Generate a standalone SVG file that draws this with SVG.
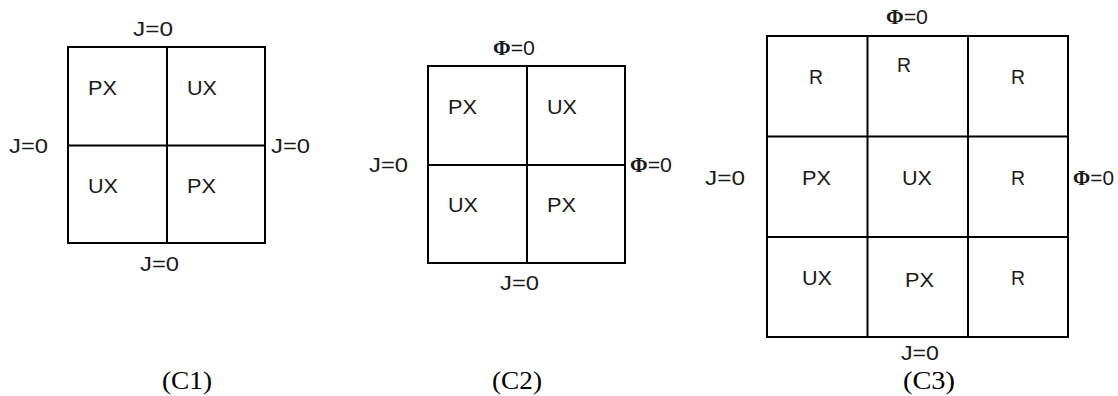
<svg xmlns="http://www.w3.org/2000/svg" width="1118" height="396" viewBox="0 0 1118 396">
<style>
.box{fill:none;stroke:#000;stroke-width:2}
.ln{stroke:#000;stroke-width:2}
.t{font-family:"Liberation Sans",Arial,sans-serif;font-size:20px;fill:#1a1a1a}
.b{font-family:"Liberation Serif","Times New Roman",serif;font-weight:bold}
.cap{font-family:"Liberation Serif","Times New Roman",serif;font-size:25px;fill:#000}
</style>
<rect width="1118" height="396" fill="#fff"/>
<g id="c1">
<rect class="box" x="68" y="47" width="197" height="196"/>
<line class="ln" x1="167" y1="47" x2="167" y2="243"/>
<line class="ln" x1="68" y1="145.5" x2="265" y2="145.5"/>
<text class="t" x="133" y="36" textLength="40" lengthAdjust="spacingAndGlyphs">J=0</text>
<text class="t" x="9" y="153" textLength="39" lengthAdjust="spacingAndGlyphs">J=0</text>
<text class="t" x="271" y="153" textLength="39" lengthAdjust="spacingAndGlyphs">J=0</text>
<text class="t" x="140" y="271" textLength="39" lengthAdjust="spacingAndGlyphs">J=0</text>
<g id="c1-cell-11"><text class="t" x="88" y="95" textLength="29" lengthAdjust="spacingAndGlyphs">PX</text></g>
<g id="c1-cell-12"><text class="t" x="187" y="95" textLength="30" lengthAdjust="spacingAndGlyphs">UX</text></g>
<g id="c1-cell-21"><text class="t" x="88" y="193" textLength="30" lengthAdjust="spacingAndGlyphs">UX</text></g>
<g id="c1-cell-22"><text class="t" x="187" y="193" textLength="29" lengthAdjust="spacingAndGlyphs">PX</text></g>
<text class="cap" x="162" y="389" textLength="50" lengthAdjust="spacingAndGlyphs">(C1)</text>
</g>
<g id="c2">
<rect class="box" x="428" y="66" width="197" height="197"/>
<line class="ln" x1="527" y1="66" x2="527" y2="263"/>
<line class="ln" x1="428" y1="165" x2="625" y2="165"/>
<text class="t" x="493" y="55" textLength="42" lengthAdjust="spacingAndGlyphs"><tspan class="b">Φ</tspan>=0</text>
<text class="t" x="369" y="172" textLength="39" lengthAdjust="spacingAndGlyphs">J=0</text>
<text class="t" x="630" y="172" textLength="42" lengthAdjust="spacingAndGlyphs"><tspan class="b">Φ</tspan>=0</text>
<text class="t" x="500" y="290" textLength="39" lengthAdjust="spacingAndGlyphs">J=0</text>
<g id="c2-cell-11"><text class="t" x="448" y="114" textLength="29" lengthAdjust="spacingAndGlyphs">PX</text></g>
<g id="c2-cell-12"><text class="t" x="547" y="114" textLength="30" lengthAdjust="spacingAndGlyphs">UX</text></g>
<g id="c2-cell-21"><text class="t" x="448" y="212" textLength="30" lengthAdjust="spacingAndGlyphs">UX</text></g>
<g id="c2-cell-22"><text class="t" x="547" y="212" textLength="29" lengthAdjust="spacingAndGlyphs">PX</text></g>
<text class="cap" x="492" y="389" textLength="50" lengthAdjust="spacingAndGlyphs">(C2)</text>
</g>
<g id="c3">
<rect class="box" x="767" y="36" width="301" height="301"/>
<line class="ln" x1="867.5" y1="36" x2="867.5" y2="337"/>
<line class="ln" x1="968" y1="36" x2="968" y2="337"/>
<line class="ln" x1="767" y1="136.5" x2="1068" y2="136.5"/>
<line class="ln" x1="767" y1="237" x2="1068" y2="237"/>
<text class="t" x="886" y="24" textLength="42" lengthAdjust="spacingAndGlyphs"><tspan class="b">Φ</tspan>=0</text>
<text class="t" x="705" y="185" textLength="40" lengthAdjust="spacingAndGlyphs">J=0</text>
<text class="t" x="1073" y="185" textLength="41" lengthAdjust="spacingAndGlyphs"><tspan class="b">Φ</tspan>=0</text>
<text class="t" x="901" y="360" textLength="38" lengthAdjust="spacingAndGlyphs">J=0</text>
<g id="c3-cell-11"><text class="t" x="809" y="84" textLength="14" lengthAdjust="spacingAndGlyphs">R</text></g>
<g id="c3-cell-12"><text class="t" x="897" y="72" textLength="14" lengthAdjust="spacingAndGlyphs">R</text></g>
<g id="c3-cell-13"><text class="t" x="1011" y="84" textLength="14" lengthAdjust="spacingAndGlyphs">R</text></g>
<g id="c3-cell-21"><text class="t" x="802" y="185" textLength="29" lengthAdjust="spacingAndGlyphs">PX</text></g>
<g id="c3-cell-22"><text class="t" x="902" y="185" textLength="30" lengthAdjust="spacingAndGlyphs">UX</text></g>
<g id="c3-cell-23"><text class="t" x="1011" y="185" textLength="14" lengthAdjust="spacingAndGlyphs">R</text></g>
<g id="c3-cell-31"><text class="t" x="802" y="285" textLength="30" lengthAdjust="spacingAndGlyphs">UX</text></g>
<g id="c3-cell-32"><text class="t" x="905" y="287" textLength="29" lengthAdjust="spacingAndGlyphs">PX</text></g>
<g id="c3-cell-33"><text class="t" x="1011" y="285" textLength="14" lengthAdjust="spacingAndGlyphs">R</text></g>
<text class="cap" x="903" y="389" textLength="52" lengthAdjust="spacingAndGlyphs">(C3)</text>
</g>
<g id="connectors"></g>
</svg>
